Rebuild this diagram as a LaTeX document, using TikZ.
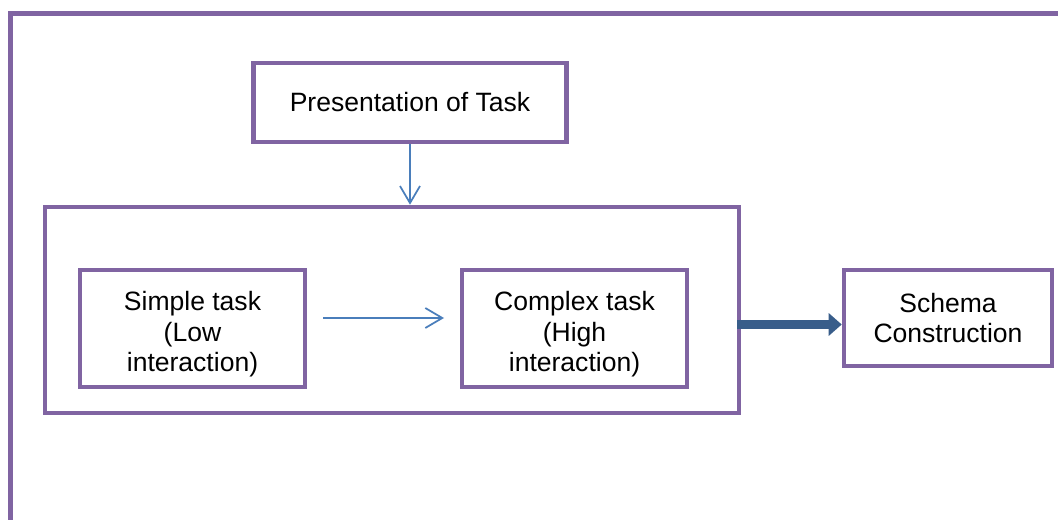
\documentclass[tikz,border=0pt]{standalone}
\usepackage{fontspec}
\setmainfont{Liberation Sans}
\usetikzlibrary{arrows.meta}
\definecolor{boxpurple}{HTML}{8064A2}
\definecolor{thinblue}{HTML}{4A7EBB}
\definecolor{thickblue}{HTML}{385D8A}
\begin{document}
\begin{tikzpicture}[x=0.75pt,y=-0.75pt,
  box/.style={draw=boxpurple, line width=3.4pt, fill=white, rectangle, inner sep=0pt,
    align=center, font=\fontsize{19.9}{23}\selectfont},
  thinarrow/.style={draw=thinblue, line width=1.3pt,
    -{Straight Barb[length=12.75pt,width=15pt,line width=1.3pt]}},
  thickarrow/.style={draw=thickblue, line width=6.75pt,
    -{Triangle[length=9.75pt,width=16.5pt]}}
]
\useasboundingbox (0,0) rectangle (1058,520);
\fill[white] (0,0) rectangle (1058,520);
% outer frame (cut off at the right and bottom)
\draw[boxpurple, line width=3.75pt] (10.5,520) -- (10.5,13.5) -- (1058,13.5);

\node[box, minimum width=234.75pt, minimum height=59.25pt] (pres) at (410,102.5) {Presentation of Task};
\node[box, minimum width=520.5pt, minimum height=154.5pt] (big) at (392,310) {};
\node[box, minimum width=168.75pt, minimum height=87.75pt] (simple) at (192.5,328.5) {\rule{0pt}{6pt}\\[-6pt]Simple task\\(Low\\interaction)};
\node[box, minimum width=168.75pt, minimum height=87.75pt] (complex) at (574.5,328.5) {\rule{0pt}{6pt}\\[-6pt]Complex task\\(High\\interaction)};
\node[box, minimum width=156pt, minimum height=72pt] (schema) at (948,318) {Schema\\Construction};

\coordinate (h1) at (323,318);
\coordinate (h2) at (444,318);
\draw[thinarrow] (pres.south) -- (pres.south |- big.north);
\draw[thinarrow] (h1) -- (h2);
\draw[thickarrow] (737,324.5) -- (schema.west |- 0,324.5);
\end{tikzpicture}
\end{document}
